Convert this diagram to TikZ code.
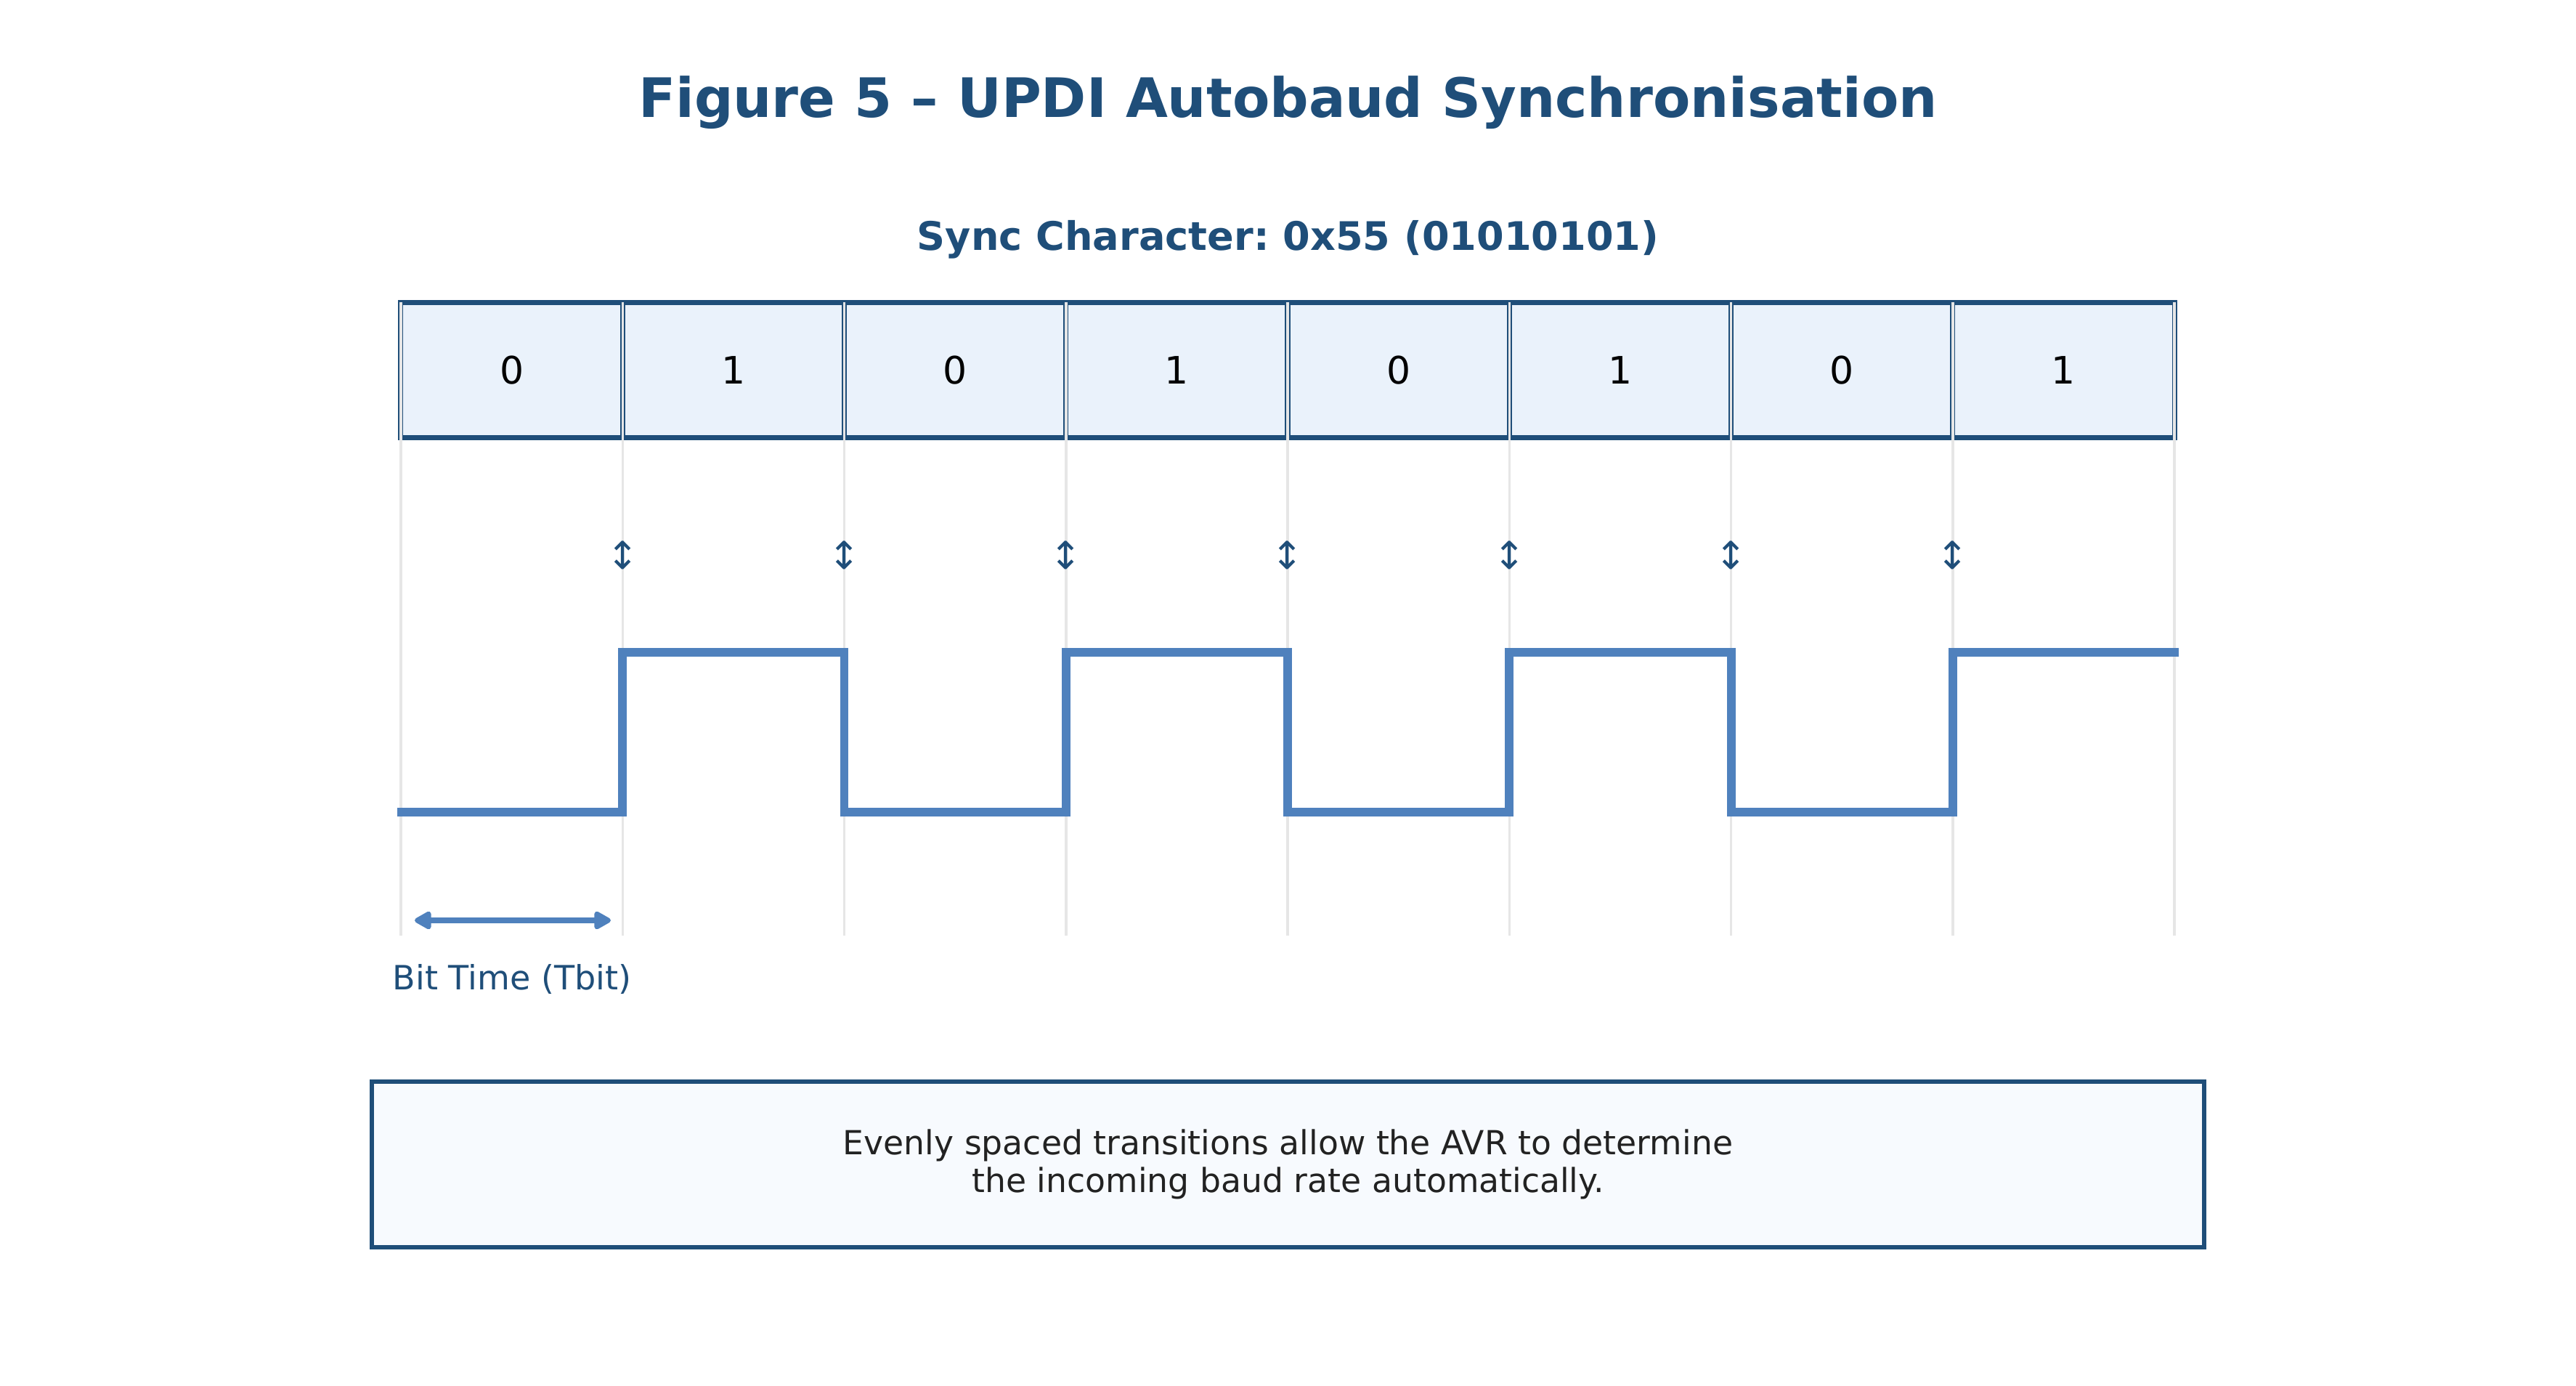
\documentclass[tikz,border=0pt]{standalone}
\usepackage{fontspec}
\setmainfont{DejaVu Sans}
\usepackage{tikz}
\usetikzlibrary{arrows.meta, positioning}
\frenchspacing
\definecolor{updinavy}{HTML}{1F4E79}
\definecolor{updisignal}{HTML}{4F81BD}
\definecolor{updicell}{HTML}{EAF2FB}
\definecolor{updinote}{HTML}{F7FAFE}
\definecolor{updigrid}{HTML}{E6E6E6}
\definecolor{upditext}{HTML}{222222}
\tikzstyle{bitbox} = [
  rectangle, draw=updinavy, fill=updicell, line width=2pt,
  minimum width=3.0525cm, minimum height=1.86cm,
  inner sep=0pt, outer sep=0pt,
  font=\fontsize{14.8}{17}\selectfont, text=black
]
\tikzstyle{gridline} = [draw=updigrid, line width=1pt]
\tikzstyle{signal} = [draw=updisignal, line width=3.4pt, line join=miter]
\tikzstyle{edgemark} = [text=updinavy, inner sep=0pt, font=\fontsize{15}{15}\selectfont]
\tikzstyle{notebox} = [
  rectangle, draw=updinavy, fill=updinote, line width=1.85pt,
  minimum width=25.23cm, minimum height=2.28cm,
  align=center, text=upditext, font=\fontsize{13}{14.8}\selectfont
]
\tikzstyle{arrow} = [{Triangle[length=7.5pt,width=7.8pt,round]}-{Triangle[length=7.5pt,width=7.8pt,round]},
  draw=updisignal, line width=2pt, line cap=round]

\begin{document}
\begin{tikzpicture}
  \useasboundingbox (0,0) rectangle (35.47,19.07);

  % Titles
  \node[anchor=base, text=updinavy, font=\fontsize{21.3}{26}\selectfont\bfseries] (title) at (17.735,17.45) {Figure 5 – UPDI Autobaud Synchronisation};
  \node[anchor=base, text=updinavy, font=\fontsize{15.4}{19}\selectfont\bfseries] (subtitle) at (17.735,15.62) {Sync Character: 0x55 (01010101)};

  % Bit cells
  \node[bitbox] (bit0) at (7.046,13.975) {0};
  \node[bitbox] (bit1) at (10.099,13.975) {1};
  \node[bitbox] (bit2) at (13.151,13.975) {0};
  \node[bitbox] (bit3) at (16.204,13.975) {1};
  \node[bitbox] (bit4) at (19.256,13.975) {0};
  \node[bitbox] (bit5) at (22.309,13.975) {1};
  \node[bitbox] (bit6) at (25.361,13.975) {0};
  \node[bitbox] (bit7) at (28.414,13.975) {1};

  % Bit boundaries
  \draw[gridline] (bit0.north west) -- ++(0,-8.71);
  \draw[gridline] (bit1.north west) -- ++(0,-8.71);
  \draw[gridline] (bit2.north west) -- ++(0,-8.71);
  \draw[gridline] (bit3.north west) -- ++(0,-8.71);
  \draw[gridline] (bit4.north west) -- ++(0,-8.71);
  \draw[gridline] (bit5.north west) -- ++(0,-8.71);
  \draw[gridline] (bit6.north west) -- ++(0,-8.71);
  \draw[gridline] (bit7.north west) -- ++(0,-8.71);
  \draw[gridline] (bit7.north east) -- ++(0,-8.71);

  % Edge markers
  \node[edgemark] (edge1) at (8.5725,11.43) {↕};
  \node[edgemark] (edge2) at (11.625,11.43) {↕};
  \node[edgemark] (edge3) at (14.6775,11.43) {↕};
  \node[edgemark] (edge4) at (17.73,11.43) {↕};
  \node[edgemark] (edge5) at (20.7825,11.43) {↕};
  \node[edgemark] (edge6) at (23.835,11.43) {↕};
  \node[edgemark] (edge7) at (26.8875,11.43) {↕};

  % Waveform
  \draw[signal] (5.47,7.89) -- (8.5725,7.89) -- (8.5725,10.09) -- (11.625,10.09)
    -- (11.625,7.89) -- (14.6775,7.89) -- (14.6775,10.09) -- (17.73,10.09)
    -- (17.73,7.89) -- (20.7825,7.89) -- (20.7825,10.09) -- (23.835,10.09)
    -- (23.835,7.89) -- (26.8875,7.89) -- (26.8875,10.09) -- (30.00,10.09);

  % Bit time
  \coordinate (tbstart) at (5.71,6.40);
  \coordinate (tbend) at (8.41,6.40);
  \draw[arrow] (tbstart) -- (tbend);
  \node[anchor=base, text=updinavy, font=\fontsize{13.1}{16}\selectfont] (tbit) at (7.05,5.45) {Bit Time (Tbit)};

  % Note
  \node[notebox] (note) at (17.735,3.04) {Evenly spaced transitions allow the AVR to determine\\the incoming baud rate automatically.};

\end{tikzpicture}
\end{document}
